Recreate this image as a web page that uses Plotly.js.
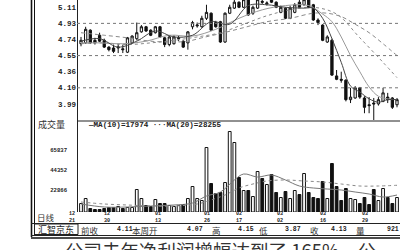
<!DOCTYPE html>
<html><head><meta charset="utf-8">
<script src="https://cdn.plot.ly/plotly-3.0.1.min.js"></script>
<style>html,body{margin:0;padding:0;background:#fff;}#chart{width:400px;height:250px;}</style>
</head><body><div id="chart"></div>
<script>
// ---- data ----
const opens  = [4.68,4.69,4.84,4.72,4.78,4.72,4.64,4.63,4.63,4.62,4.58,4.69,4.74,4.82,4.88,4.84,4.81,4.88,4.75,4.67,4.68,4.74,4.71,4.69,4.88,4.89,4.88,4.98,5.04,4.93,4.94,4.70,5.04,5.10,5.17,5.11,5.20,5.04,5.10,5.18,5.15,5.20,5.17,5.05,5.10,4.98,5.05,5.17,5.14,5.20,5.14,4.96,4.90,4.70,4.72,4.30,4.26,4.25,4.02,4.04,4.16,4.04,3.96,3.98,3.97,4.00,4.05,4.04,3.96];
const highs  = [4.76,4.88,4.85,4.75,4.81,4.74,4.65,4.67,4.68,4.67,4.76,4.78,4.93,4.90,4.89,4.85,4.89,4.89,4.76,4.77,4.78,4.78,4.72,4.83,4.95,4.93,5.01,5.14,5.05,4.95,4.95,5.05,5.14,5.20,5.18,5.22,5.22,5.13,5.22,5.20,5.18,5.21,5.18,5.13,5.11,5.13,5.16,5.20,5.21,5.21,5.15,4.98,4.91,4.78,4.74,4.37,4.35,4.26,4.16,4.18,4.17,4.06,4.05,4.04,4.05,4.16,4.10,4.05,4.04];
const lows   = [4.65,4.68,4.68,4.67,4.70,4.63,4.59,4.57,4.57,4.57,4.57,4.68,4.72,4.81,4.82,4.77,4.80,4.75,4.64,4.65,4.67,4.71,4.63,4.61,4.85,4.87,4.87,4.96,4.83,4.87,4.69,4.69,5.03,5.09,5.10,5.10,5.01,5.02,5.09,5.15,5.13,5.16,5.10,5.04,4.97,4.97,5.04,5.10,5.13,5.10,4.95,4.90,4.71,4.69,4.30,4.25,4.22,4.00,3.98,4.03,4.03,3.86,3.86,3.78,3.95,3.99,3.98,3.91,3.93];
const closes = [4.72,4.85,4.69,4.69,4.71,4.64,4.61,4.59,4.64,4.61,4.75,4.77,4.81,4.88,4.83,4.78,4.88,4.76,4.67,4.76,4.76,4.75,4.64,4.82,4.93,4.90,4.98,5.05,4.84,4.88,4.70,5.04,5.11,5.17,5.11,5.20,5.02,5.11,5.20,5.17,5.16,5.17,5.11,5.11,4.98,5.10,5.14,5.11,5.20,5.11,4.96,4.93,4.72,4.76,4.31,4.26,4.25,4.02,4.05,4.16,4.05,3.93,3.95,3.97,4.02,4.10,4.02,3.93,4.02];
const volumes = [8990,14280,3700,2650,2650,3700,4760,4760,5820,3700,4760,4760,23810,14280,6880,5820,13230,8990,8990,6880,5820,6880,7940,14280,26980,14280,12170,68240,30150,19570,20630,31210,85170,73530,36500,22750,22750,16400,42850,35440,29100,39680,20630,15340,21690,14280,22750,18520,40730,20630,15340,14280,32270,14280,51310,26980,12170,24860,14280,13230,8990,15340,7940,23810,12170,24860,15340,8990,15340];

// moving-average lines (day index, value)
const ma5Days  = [0,4,8,12,16,20,24,28,32,36,40,44,48,50,52,54,56,58,60,62,64,66,68];
const ma5Vals  = [4.71,4.74,4.64,4.71,4.83,4.76,4.78,4.94,4.91,5.13,5.14,5.11,5.10,5.10,4.98,4.74,4.46,4.18,4.11,4.03,3.99,4.02,4.02];
const ma10Days = [0,4,9,14,19,24,29,34,39,44,49,52,54,56,58,60,62,64,66,68];
const ma10Vals = [4.69,4.69,4.68,4.71,4.78,4.77,4.85,4.98,5.08,5.13,5.13,5.03,4.94,4.76,4.54,4.35,4.17,4.06,4.03,4.02];
const ma20Days = [0,5,10,15,20,25,30,35,40,45,50,55,60,65,68];
const ma20Vals = [4.68,4.69,4.67,4.69,4.72,4.76,4.81,4.91,5.01,5.08,5.11,5.03,4.75,4.46,4.28];
const ma60Days = [0,5,10,15,20,23,26,30,35,40,45,50,53,56,59,62,65,68];
const ma60Vals = [4.81,4.78,4.75,4.71,4.70,4.71,4.75,4.80,4.87,4.94,4.98,5.04,5.04,5.00,4.91,4.81,4.68,4.54];

const volMa10Days = [0,5,10,15,20,24,27,30,33,35,38,41,44,47,50,53,56,59,62,65,68];
const volMa10Vals = [8460,5290,5290,6350,7410,9520,16930,21160,33860,40200,37030,39150,33860,27510,25390,24330,23280,21160,19040,15870,17974];
const volMa20Days = [0,5,10,15,20,25,28,31,34,37,40,44,48,52,56,60,64,68];
const volMa20Vals = [10580,8460,7410,6350,6350,8460,12700,17990,25390,29620,32800,33860,32800,31740,29620,27510,27510,28255];

const priceTickVals = [5.11,4.92,4.73,4.54,4.35,4.16,3.97];
const priceTickText = ['5.11','4.93','4.74','4.55','4.36','4.10','3.99'];
const priceGridVals = [4.92,4.54,4.16];
const volTickVals = [22866,44352,65837];
const volTickText = ['22866','44352','65837'];
const dateMonths = ['12','12','01','01','02','03','03','03'];
const dateDays   = ['21','30','13','26','17','02','16','29'];
const dateDayPos = [-1.94,5.6,16.6,27.1,34.0,42.8,52.1,61.1];

const legendText = '\u2014MA(10)=17974 \u00b7\u00b7\u00b7MA(20)=28255';
const infoItems = [['前收',80],['4.11',116],['本周开',131],['4.07',186],['高',211],['4.15',237],['低',258],['3.87',284],['收',309],['4.13',330],['量',355],['921',386]];
const footerText = '公司去年净利润增幅达到了 165%，公';

// ---- layout helpers ----
const W = 400, H = 250;
const px = x => x / W;
const py = y => 1 - y / H;
const X0 = 77, step = 316 / 68;           // first candle at 81px
const r0 = -4 / step, r1 = r0 + (W - X0) / step;
const dayToPaper = d => px(X0 + (d - r0) * step);

const days = opens.map((_, i) => i);
const volColors = closes.map((c, i) => c >= opens[i] ? '#ffffff' : '#111111');

const mono = 'Liberation Mono, DejaVu Sans Mono, monospace';
const cjk = 'Noto Sans CJK SC, sans-serif';

const traces = [
  {type:'candlestick', x:days, open:opens, high:highs, low:lows, close:closes,
   xaxis:'x', yaxis:'y', whiskerwidth:0, hoverinfo:'skip',
   increasing:{line:{color:'#111', width:1}, fillcolor:'#ffffff'},
   decreasing:{line:{color:'#111', width:1}, fillcolor:'#111111'}},
  {type:'scatter', mode:'lines', x:ma60Days, y:ma60Vals, xaxis:'x', yaxis:'y', hoverinfo:'skip',
   line:{color:'#8a8a8a', width:1, dash:'4px,3px', shape:'spline'}},
  {type:'scatter', mode:'lines', x:ma20Days, y:ma20Vals, xaxis:'x', yaxis:'y', hoverinfo:'skip',
   line:{color:'#8a8a8a', width:1, dash:'dot', shape:'spline'}},
  {type:'scatter', mode:'lines', x:ma10Days, y:ma10Vals, xaxis:'x', yaxis:'y', hoverinfo:'skip',
   line:{color:'#9a9a9a', width:1, shape:'spline'}},
  {type:'scatter', mode:'lines', x:ma5Days, y:ma5Vals, xaxis:'x', yaxis:'y', hoverinfo:'skip',
   line:{color:'#444', width:1, shape:'spline'}},
  {type:'bar', x:days, y:volumes, xaxis:'x2', yaxis:'y2', width:0.6, hoverinfo:'skip',
   marker:{color:volColors, line:{color:'#111', width:1}}},
  {type:'scatter', mode:'lines', x:volMa10Days, y:volMa10Vals, xaxis:'x2', yaxis:'y2', hoverinfo:'skip',
   line:{color:'#777', width:1, shape:'spline'}},
  {type:'scatter', mode:'lines', x:volMa20Days, y:volMa20Vals, xaxis:'x2', yaxis:'y2', hoverinfo:'skip',
   line:{color:'#888', width:1, dash:'dot', shape:'spline'}}
];

const shapes = [
  {type:'line', xref:'paper', yref:'paper', x0:px(31.5), x1:px(31.5), y0:py(0), y1:py(237), line:{color:'#111', width:1.6}},
  {type:'line', xref:'paper', yref:'paper', x0:px(34.5), x1:px(34.5), y0:py(0), y1:py(236), line:{color:'#111', width:1}},
  {type:'line', xref:'paper', yref:'paper', x0:px(77.5), x1:px(77.5), y0:py(0), y1:py(212), line:{color:'#222', width:1}},
  {type:'line', xref:'paper', yref:'paper', x0:px(77), x1:1, y0:py(121), y1:py(121), line:{color:'#222', width:1}},
  {type:'line', xref:'paper', yref:'paper', x0:px(31), x1:1, y0:py(223.5), y1:py(223.5), line:{color:'#222', width:1}},
  {type:'rect', xref:'paper', yref:'paper', x0:px(34.5), x1:px(78), y0:py(224), y1:py(234.5), line:{color:'#222', width:1}},
  {type:'line', xref:'paper', yref:'paper', x0:px(31), x1:1, y0:py(235.5), y1:py(235.5), line:{color:'#222', width:1}},
  {type:'line', xref:'paper', yref:'paper', x0:px(31), x1:1, y0:py(238), y1:py(238), line:{color:'#111', width:1.6}}
];
priceGridVals.forEach(v => shapes.push({type:'line', xref:'x domain', yref:'y', x0:0, x1:1, y0:v, y1:v,
  line:{color:'#777', width:1, dash:'dot'}}));

const annotations = [
  {text:'成交量', xref:'paper', yref:'paper', x:px(36), y:py(124), xanchor:'left', yanchor:'middle', showarrow:false,
   font:{family:cjk, size:9, color:'#333'}},
  {text:legendText, xref:'paper', yref:'paper', x:px(86), y:py(125), xanchor:'left', yanchor:'middle', showarrow:false,
   font:{family:mono, size:7.6, color:'#222', weight:'bold'}},
  {text:'日线', xref:'paper', yref:'paper', x:px(36), y:py(216.5), xanchor:'left', yanchor:'middle', showarrow:false,
   borderpad:0, font:{family:cjk, size:8.5, color:'#333'}},
  {text:'汇智京东', xref:'paper', yref:'paper', x:px(56.5), y:py(229.8), xanchor:'center', yanchor:'middle', showarrow:false,
   borderpad:0, font:{family:cjk, size:9, color:'#222'}},
  {text:footerText, xref:'paper', yref:'paper', x:px(63), y:py(234.5), xanchor:'left', yanchor:'top', showarrow:false,
   font:{family:cjk, size:18.5, color:'#333'}}
];
dateMonths.forEach((m, k) => {
  const xp = dayToPaper(dateDayPos[k]);
  annotations.push({text:m, xref:'paper', yref:'paper', x:xp, y:py(214.0), xanchor:'center', yanchor:'middle',
    showarrow:false, borderpad:0, font:{family:mono, size:5.1, color:'#222', weight:'bold'}});
  annotations.push({text:dateDays[k], xref:'paper', yref:'paper', x:xp, y:py(220.7), xanchor:'center', yanchor:'middle',
    showarrow:false, borderpad:0, font:{family:mono, size:5.1, color:'#222', weight:'bold'}});
});
infoItems.forEach(([t, x]) => {
  const isNum = /[0-9]/.test(t);
  annotations.push({text:t, xref:'paper', yref:'paper', x:px(x), y:py(229.8), xanchor:'left', yanchor:'middle',
    showarrow:false, borderpad:0, font: isNum ? {family:mono, size:6.5, color:'#222', weight:'bold'} : {family:cjk, size:8.5, color:'#333'}});
});

const layout = {
  width:W, height:H, margin:{l:0, r:0, t:0, b:0}, paper_bgcolor:'#fff', plot_bgcolor:'#fff',
  showlegend:false, dragmode:false, hovermode:false,
  xaxis:{domain:[px(X0),1], range:[r0,r1], anchor:'y', showticklabels:false, showgrid:false, zeroline:false,
         showline:false, ticks:'', rangeslider:{visible:false}, fixedrange:true},
  yaxis:{domain:[py(121),1], range:[5.196-0.0118*121, 5.196], anchor:'x', tickvals:priceTickVals, ticktext:priceTickText,
         showgrid:false, zeroline:false, showline:false, ticks:'', fixedrange:true,
         tickfont:{family:mono, size:7.5, color:'#222', weight:'bold'}},
  xaxis2:{domain:[px(X0),1], range:[r0,r1], anchor:'y2', showticklabels:false, showgrid:false, zeroline:false,
          showline:false, ticks:'', fixedrange:true},
  yaxis2:{domain:[py(212),py(121)], range:[0, 91*1058], anchor:'x2', tickvals:volTickVals, ticktext:volTickText,
          showgrid:false, zeroline:false, showline:false, ticks:'', fixedrange:true, ticklabelstandoff:9,
          tickfont:{family:mono, size:5.6, color:'#222', weight:'bold'}},
  bargap:0.4, shapes:shapes, annotations:annotations
};

Plotly.newPlot('chart', traces, layout, {staticPlot:true, displayModeBar:false});
</script></body></html>
